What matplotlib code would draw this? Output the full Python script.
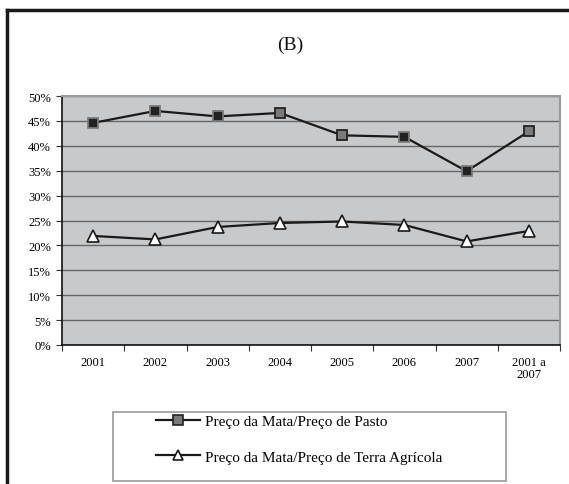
import numpy as np
import matplotlib
matplotlib.use("Agg")
import matplotlib.pyplot as plt
from matplotlib.patches import Rectangle
from matplotlib.lines import Line2D

plt.rcParams['font.family'] = ['Liberation Serif', 'DejaVu Serif']

# data
categories = ['2001', '2002', '2003', '2004', '2005', '2006', '2007', '2001 a\n2007']
pasto = [44.6, 47.0, 45.9, 46.6, 42.1, 41.8, 34.9, 42.9]
agricola = [21.9, 21.2, 23.7, 24.5, 24.8, 24.1, 20.8, 22.9]
pasto_label = 'Preço da Mata/Preço de Pasto'
agricola_label = 'Preço da Mata/Preço de Terra Agrícola'
# marker fill per point (scan shows some dark, some gray)
pasto_fill = ['#222222', '#222222', '#222222', '#7a7a7a', '#7a7a7a', '#222222', '#222222', '#7a7a7a']
pasto_edge = ['#7a7a7a', '#7a7a7a', '#7a7a7a', '#222222', '#222222', '#7a7a7a', '#7a7a7a', '#222222']

W, H = 569, 485
fig = plt.figure(figsize=(W / 100, H / 100), dpi=100)
fig.patch.set_facecolor('white')

# outer frame (left and top only, cropped figure)
fig.add_artist(Line2D([7 / W, 7 / W], [0, 1 - 11 / H], transform=fig.transFigure,
                      color='#1a1a1a', lw=2.5))
fig.add_artist(Line2D([7 / W, 1], [1 - 11 / H, 1 - 11 / H], transform=fig.transFigure,
                      color='#1a1a1a', lw=2.5))

fig.text(290 / W, 1 - 45 / H, '(B)', ha='center', va='center', fontsize=14, color='#111111')

ax = fig.add_axes([62 / W, 1 - 346 / H, 498 / W, 249 / H])
ax.set_facecolor('#c8c9cb')

x = np.arange(len(categories))
ax.plot(x, agricola, color='#1a1a1a', lw=1.6, zorder=3)
ax.plot(x, agricola, linestyle='none', marker='^', markersize=8, markerfacecolor='white',
        markeredgecolor='#1a1a1a', markeredgewidth=1.2, zorder=4)
ax.plot(x, pasto, color='#1a1a1a', lw=1.6, zorder=3)
for xi, yi, fc, ec in zip(x, pasto, pasto_fill, pasto_edge):
    ax.plot(xi, yi, linestyle='none', marker='s', markersize=7, markerfacecolor=fc,
            markeredgecolor=ec, markeredgewidth=1.3, zorder=4)

ax.set_xlim(-0.5, len(categories) - 0.5)
ax.set_ylim(0, 50)
ax.set_yticks(np.arange(0, 51, 5))
ax.set_yticklabels(['%d%%' % v for v in range(0, 51, 5)], fontsize=9)
ax.yaxis.grid(True, color='#666666', lw=1.0)
ax.set_axisbelow(True)

ax.set_xticks(np.arange(-0.5, len(categories), 1.0))
ax.set_xticklabels([])
ax.set_xticks(x, minor=True)
ax.set_xticklabels(categories, minor=True, fontsize=9, linespacing=0.95, va='top')
ax.tick_params(axis='x', which='minor', length=0, pad=8)
ax.tick_params(axis='x', which='major', length=4, direction='out', color='#333333')
ax.tick_params(axis='y', length=4, direction='out', color='#333333', pad=4)

for s in ['top', 'right']:
    ax.spines[s].set_color('#9a9a9a')
    ax.spines[s].set_linewidth(1.5)
for s in ['left', 'bottom']:
    ax.spines[s].set_color('#111111')
    ax.spines[s].set_linewidth(1.2)

# legend frame and entries
fig.add_artist(Rectangle((113 / W, 1 - 482 / H), 393 / W, 69 / H, transform=fig.transFigure,
                         facecolor='white', edgecolor='#999999', lw=1.2))
handles = [
    Line2D([], [], color='#1a1a1a', lw=1.6, marker='s', markersize=7,
           markerfacecolor='#7a7a7a', markeredgecolor='#222222', markeredgewidth=1.2),
    Line2D([], [], color='#1a1a1a', lw=1.6, marker='^', markersize=7,
           markerfacecolor='white', markeredgecolor='#1a1a1a', markeredgewidth=1.2),
]
fig.legend(handles, [pasto_label, agricola_label], loc='center left',
           bbox_to_anchor=(148 / W, 1 - 440 / H), frameon=False, fontsize=11,
           handlelength=2.9, handletextpad=0.3, labelspacing=1.45, borderpad=0)

fig.savefig('out.png', dpi=100)
